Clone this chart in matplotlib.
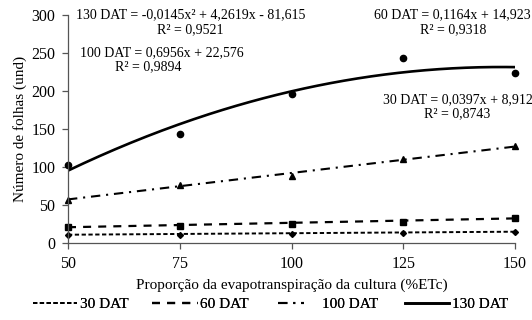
import numpy as np
import matplotlib
matplotlib.use("Agg")
import matplotlib.pyplot as plt

plt.rcParams['font.family'] = ['Liberation Serif', 'DejaVu Serif']

# proportion of crop evapotranspiration (%ETc)
etc = [50, 75, 100, 125, 150]

# observed leaf counts
obs_30 = [11, 11, 12, 13, 15]
obs_60 = [21, 23, 25, 28, 33]
obs_100 = [56, 76, 88, 111, 127]
obs_130 = [102, 144, 196, 244, 224]

# regression coefficients (highest power first)
coef_30 = [0.0397, 8.912]
coef_60 = [0.1164, 14.923]
coef_100 = [0.6956, 22.576]
coef_130 = [-0.0145, 4.2619, -81.615]

W, H = 532, 320
fig = plt.figure(figsize=(W / 100, H / 100), dpi=100)
ax = fig.add_axes([68 / W, 1 - 243 / H, (515 - 68) / W, (243 - 15) / H])

xs = np.linspace(50, 150, 200)
series = [
    ("30 DAT", obs_30, coef_30, (0, (2.2, 1.3)), 1.4, "D", 3),
    ("60 DAT", obs_60, coef_60, (0, (3.6, 3.2)), 1.6, "s", 4.5),
    ("100 DAT", obs_100, coef_100, (0, (4.5, 2.8, 1, 2.8)), 1.5, "^", 5),
    ("130 DAT", obs_130, coef_130, "-", 1.9, "o", 4.5),
]
handles = []
for label, obs, coef, ls, lw, mk, ms in series:
    h, = ax.plot(xs, np.polyval(coef, xs), color="black", ls=ls, lw=lw, label=label)
    handles.append(h)
    ax.plot(etc, obs, ls="none", marker=mk, ms=ms, color="black", clip_on=False)

ax.set_xlim(50, 150)
ax.set_ylim(0, 300)
ax.set_xticks(etc)
ax.set_yticks(range(0, 301, 50))
for s in ["top", "right"]:
    ax.spines[s].set_visible(False)
for s in ["left", "bottom"]:
    ax.spines[s].set_color("#555555")
    ax.spines[s].set_linewidth(0.9)
ax.tick_params(direction="out", length=4, width=0.9, color="#555555",
               labelsize=11.5, pad=5)
ax.set_xlabel("Proporção da evapotranspiração da cultura (%ETc)",
              fontsize=11, labelpad=5)
ax.set_ylabel("Número de folhas (und)", fontsize=11, labelpad=3)

def ftext(x, y, s, ha="left"):
    fig.text(x / W, 1 - y / H, s, ha=ha, va="center", fontsize=10)

ftext(76, 15, "130 DAT = -0,0145x² + 4,2619x - 81,615")
ftext(190, 30, "R² = 0,9521", ha="center")
ftext(80, 53, "100 DAT = 0,6956x + 22,576")
ftext(148, 67, "R² = 0,9894", ha="center")
ftext(374, 15, "60 DAT = 0,1164x + 14,923")
ftext(453, 30, "R² = 0,9318", ha="center")
ftext(383, 100, "30 DAT = 0,0397x + 8,912")
ftext(457, 114, "R² = 0,8743", ha="center")

# one legend per entry, placed like the original
leg_x = [33, 152, 278, 405]
leg_len = [2.9, 3.0, 1.7, 2.9]
leg_pad = [0.15, 0.15, 1.2, 0.15]
for h, x, hl, tp in zip(handles, leg_x, leg_len, leg_pad):
    lg = fig.legend([h], [h.get_label()], loc="center left",
                    bbox_to_anchor=(x / W, 1 - 304 / H), frameon=False,
                    fontsize=11, handlelength=hl, handletextpad=tp,
                    borderpad=0, borderaxespad=0)
    fig.add_artist(lg)

fig.savefig("out.png", dpi=100)
